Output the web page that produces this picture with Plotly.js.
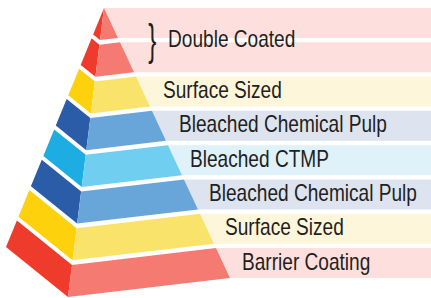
<!DOCTYPE html>
<html>
<head>
<meta charset="utf-8">
<script src="https://cdn.plot.ly/plotly-3.0.1.min.js"></script>
<style>html,body{margin:0;padding:0;background:#fff;}#chart{width:431px;height:298px;}</style>
</head>
<body>
<div id="chart"></div>
<script>
// ---- data ----
const layerMaterials = ["coating", "coating", "sizing", "chemical", "ctmp", "chemical", "sizing", "barrier"];
const labelTexts = ["Double Coated", "Surface Sized", "Bleached Chemical Pulp", "Bleached CTMP", "Bleached Chemical Pulp", "Surface Sized", "Barrier Coating"];
const labelSpans = [2, 1, 1, 1, 1, 1, 1];

// ---- styles ----
const palette = {
  coating:  {front: "#F47A72", side: "#EE3B2B", band: "#FDE0DE"},
  barrier:  {front: "#F47A72", side: "#EE3B2B", band: "#FDE0DE"},
  sizing:   {front: "#FAE36B", side: "#FDD10B", band: "#FEF6DB"},
  chemical: {front: "#68A6DA", side: "#2B5CA7", band: "#DDE4F0"},
  ctmp:     {front: "#70CEF0", side: "#1DADE2", band: "#DFF1F9"}
};
const FONT = "Liberation Sans, Arial, Helvetica, sans-serif";
const TEXT_SQUEEZE = 0.83;   // condensed look
const BRACE_SQUEEZE = 0.55;
const labelNudge = [0, 0, 0, -5, -2, -2, -1];   // horizontal fine-tuning (px)

// pyramid geometry (in pixel-like axis units)
const apex = [104, 8], baseLeft = [6, 247], baseFront = [68, 297], baseRight = [230, 278];
const bandH = 30;
const n = layerMaterials.length;
const bandGap = (baseRight[1] - apex[1] - n * bandH) / (n - 1);
const rightX = 431;

function pt(C, t) { return [apex[0] + t * (C[0] - apex[0]), apex[1] + t * (C[1] - apex[1])]; }
function tOf(y) { return (y - apex[1]) / (baseRight[1] - apex[1]); }

const traces = [];
function poly(pts, color) {
  traces.push({
    type: "scatter", mode: "lines", fill: "toself", fillcolor: color,
    line: {width: 0, color: color}, hoverinfo: "skip", showlegend: false,
    x: pts.map(p => p[0]).concat([pts[0][0]]),
    y: pts.map(p => p[1]).concat([pts[0][1]])
  });
}

const bands = layerMaterials.map((m, i) => {
  const yt = apex[1] + i * (bandH + bandGap);
  return {m: m, yt: yt, yb: yt + bandH};
});

// background bands
bands.forEach(b => {
  const r0 = pt(baseRight, tOf(b.yt)), r1 = pt(baseRight, tOf(b.yb));
  poly([r0, [rightX, b.yt], [rightX, b.yb], r1], palette[b.m].band);
});

// pyramid layers
bands.forEach(b => {
  const t0 = tOf(b.yt), t1 = tOf(b.yb);
  const L0 = pt(baseLeft, t0), L1 = pt(baseLeft, t1);
  const F0 = pt(baseFront, t0), F1 = pt(baseFront, t1);
  const R0 = pt(baseRight, t0), R1 = pt(baseRight, t1);
  poly([L0, F0, F1, L1], palette[b.m].side);
  poly([F0, R0, R1, F1], palette[b.m].front);
});

// labels
const annotations = [];
let idx = 0;
labelTexts.forEach((txt, j) => {
  const span = labelSpans[j];
  const yTop = bands[idx].yt, yBot = bands[idx + span - 1].yb;
  const yc = (yTop + yBot) / 2 - 1.5;
  let x = pt(baseRight, tOf(yc))[0] + 19 + labelNudge[j];
  if (span > 1) {
    const bx = pt(baseRight, tOf(yc))[0] + 34.5;
    annotations.push({x: bx, y: yc + 1, xref: "x", yref: "y", text: "}", showarrow: false,
      xanchor: "center", yanchor: "middle",
      font: {family: FONT, size: 44, color: "#231F20"}});
    x = bx + 13;
  }
  annotations.push({x: x, y: yc, xref: "x", yref: "y", text: txt, showarrow: false,
    xanchor: "left", yanchor: "middle",
    font: {family: FONT, size: 23, color: "#231F20"}});
  idx += span;
});

const layout = {
  width: 431, height: 298,
  margin: {l: 0, r: 0, t: 0, b: 0},
  paper_bgcolor: "#ffffff", plot_bgcolor: "#ffffff",
  xaxis: {range: [0, 431], visible: false, fixedrange: true},
  yaxis: {range: [298, 0], visible: false, fixedrange: true},
  showlegend: false,
  annotations: annotations
};
Plotly.newPlot("chart", traces, layout, {staticPlot: true, displayModeBar: false}).then(gd => {
  gd.querySelectorAll("text.annotation-text").forEach(t => {
    const bb = t.getBBox();
    const isBrace = t.textContent.trim() === "}";
    const s = isBrace ? BRACE_SQUEEZE : TEXT_SQUEEZE;
    const ax = isBrace ? bb.x + bb.width / 2 : bb.x;
    t.setAttribute("transform", `translate(${ax},0) scale(${s},1) translate(${-ax},0)`);
  });
});
</script>
</body>
</html>
